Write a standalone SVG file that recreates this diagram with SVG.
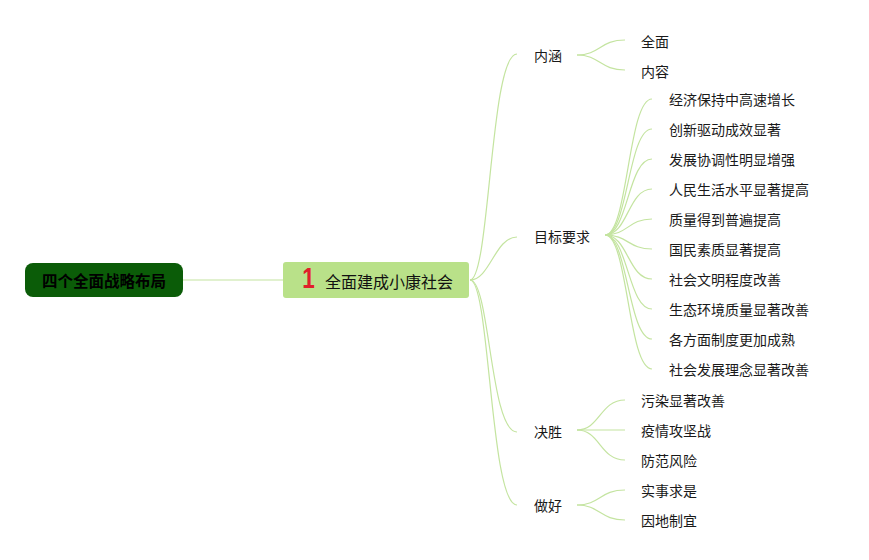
<svg xmlns="http://www.w3.org/2000/svg" width="869" height="560" viewBox="0 0 869 560">
<style>
.t{font-family:"Noto Sans CJK SC","Liberation Sans",sans-serif;font-size:14px;fill:#1a1a1a}
.c{fill:none;stroke:#c4e4a0;stroke-width:1.2}
</style>
<rect width="869" height="560" fill="#ffffff"/>
<g id="connectors">
<path class="c" d="M183,280 H283" stroke="#b8de8e"/>
<path class="c" d="M470,280 C490,280 490,54 517,54"/>
<path class="c" d="M470,280 C490,280 495,237 517,237"/>
<path class="c" d="M470,280 C490,280 490,432 517,432"/>
<path class="c" d="M470,280 C490,280 490,505 517,505"/>
<path class="c" d="M577,55 C600,55 600,40 625,40"/>
<path class="c" d="M577,55 C600,55 600,70 625,70"/>
<path class="c" d="M605,235 C628,235 628,99 652,99"/>
<path class="c" d="M605,235 C628,235 628,129 652,129"/>
<path class="c" d="M605,235 C628,235 628,159 652,159"/>
<path class="c" d="M605,235 C628,235 628,189 652,189"/>
<path class="c" d="M605,235 C628,235 628,219 652,219"/>
<path class="c" d="M605,235 C628,235 628,249 652,249"/>
<path class="c" d="M605,235 C628,235 628,279 652,279"/>
<path class="c" d="M605,235 C628,235 628,309 652,309"/>
<path class="c" d="M605,235 C628,235 628,339 652,339"/>
<path class="c" d="M605,235 C628,235 628,369 652,369"/>
<path class="c" d="M577,430 C600,430 600,400 625,400"/>
<path class="c" d="M577,430 H625"/>
<path class="c" d="M577,430 C600,430 600,460 625,460"/>
<path class="c" d="M577,505 C600,505 600,490 625,490"/>
<path class="c" d="M577,505 C600,505 600,520 625,520"/>
</g>
<g id="root">
<rect x="25" y="263" width="158" height="34" rx="8" fill="#0b5c08"/>
<text x="104" y="286.5" text-anchor="middle" font-family="Noto Sans CJK SC,sans-serif" font-size="15.5" font-weight="bold" fill="#000">四个全面战略布局</text>
</g>
<g id="main">
<rect x="283" y="262" width="186" height="36" rx="3" fill="#b9e189"/>
<text transform="translate(308.5,288) scale(0.75,1)" text-anchor="middle" font-family="Liberation Sans,sans-serif" font-size="30" font-weight="bold" fill="#e0202a">1</text>
<text x="325" y="287.5" font-family="Noto Sans CJK SC,sans-serif" font-size="16" fill="#111">全面建成小康社会</text>
</g>
<g id="n-neihan"><text class="t" x="534" y="61">内涵</text></g>
<g id="n-quanmian"><text class="t" x="641" y="46.5">全面</text></g>
<g id="n-neirong"><text class="t" x="641" y="76.5">内容</text></g>
<g id="n-mubiao"><text class="t" x="534" y="242">目标要求</text></g>
<g id="n-m1"><text class="t" x="669" y="105">经济保持中高速增长</text></g>
<g id="n-m2"><text class="t" x="669" y="135">创新驱动成效显著</text></g>
<g id="n-m3"><text class="t" x="669" y="165">发展协调性明显增强</text></g>
<g id="n-m4"><text class="t" x="669" y="195">人民生活水平显著提高</text></g>
<g id="n-m5"><text class="t" x="669" y="225">质量得到普遍提高</text></g>
<g id="n-m6"><text class="t" x="669" y="255">国民素质显著提高</text></g>
<g id="n-m7"><text class="t" x="669" y="285">社会文明程度改善</text></g>
<g id="n-m8"><text class="t" x="669" y="315">生态环境质量显著改善</text></g>
<g id="n-m9"><text class="t" x="669" y="345">各方面制度更加成熟</text></g>
<g id="n-m10"><text class="t" x="669" y="375">社会发展理念显著改善</text></g>
<g id="n-juesheng"><text class="t" x="534" y="437">决胜</text></g>
<g id="n-j1"><text class="t" x="641" y="406">污染显著改善</text></g>
<g id="n-j2"><text class="t" x="641" y="436">疫情攻坚战</text></g>
<g id="n-j3"><text class="t" x="641" y="466">防范风险</text></g>
<g id="n-zuohao"><text class="t" x="534" y="511">做好</text></g>
<g id="n-z1"><text class="t" x="641" y="496">实事求是</text></g>
<g id="n-z2"><text class="t" x="641" y="526">因地制宜</text></g>
</svg>
